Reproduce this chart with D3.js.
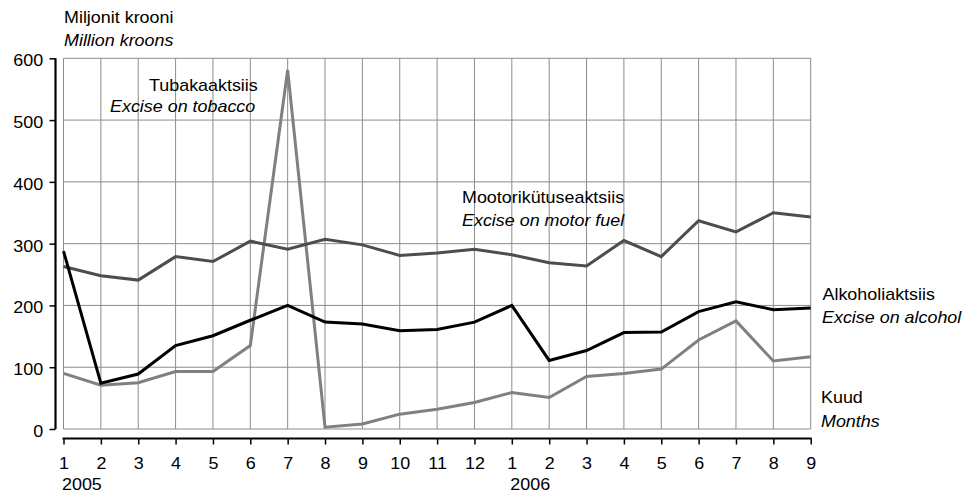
<!DOCTYPE html>
<html>
<head>
<meta charset="utf-8">
<script src="https://cdn.jsdelivr.net/npm/d3@7"></script>
<style>
  body { margin: 0; background: #fff; }
  text { font-family: "Liberation Sans", Arial, sans-serif; font-size: 16px; fill: #000; }
</style>
</head>
<body>
<div id="chart"></div>
<script>
// months Jan 2005 .. Sep 2006
const months = ["1","2","3","4","5","6","7","8","9","10","11","12","1","2","3","4","5","6","7","8","9"];
const years = [{ i: 0, label: "2005" }, { i: 12, label: "2006" }];
const yTicks = [0, 100, 200, 300, 400, 500, 600];

const motorFuel = [263, 248, 241, 279, 271, 304, 291, 307, 298, 281, 285, 291, 282, 269, 264, 305, 279, 337, 319, 350, 343];
const alcohol = [288, 74, 89, 135, 151, 176, 200, 173, 170, 159, 161, 173, 200, 111, 127, 156, 157, 190, 206, 193, 196];
const tobacco = [90, 71, 75, 93, 93, 135, 581, 3, 8, 24, 32, 43, 59, 51, 85, 90, 97, 144, 175, 110, 117];

const W = 968, H = 493;
const sx = 1.12; // reference text is a bit stretched horizontally

const svg = d3.select("#chart").append("svg")
    .attr("width", W).attr("height", H);

const x = d3.scaleLinear().domain([0, months.length - 1]).range([63.5, 810.7]);
const y = d3.scaleLinear().domain([0, 600]).range([429, 58.3]);

// grid
const grid = svg.append("g").attr("stroke", "#8c8c8c").attr("stroke-width", 1);
grid.selectAll(".v").data(months).join("line")
    .attr("x1", (d, i) => x(i)).attr("x2", (d, i) => x(i))
    .attr("y1", y(600)).attr("y2", y(0));
grid.selectAll(".h").data(yTicks).join("line")
    .attr("x1", x(0)).attr("x2", x(months.length - 1))
    .attr("y1", d => y(d)).attr("y2", d => y(d));

// y axis
const yAxis = svg.append("g")
    .attr("transform", "translate(55.5,0)")
    .call(d3.axisLeft(y).tickValues(yTicks).tickSize(6).tickPadding(0));
yAxis.select(".domain").attr("stroke", "#000").attr("stroke-width", 2.2)
    .attr("d", `M0,${y(600)}V${y(0)}`);
yAxis.selectAll(".tick line").attr("stroke", "#000").attr("stroke-width", 1.5);
yAxis.selectAll(".tick text")
    .attr("font-size", null).attr("font-family", null)
    .attr("x", -11).attr("dy", null).attr("y", 7.5)
    .attr("transform", `scale(${sx},1)`);
yAxis.attr("font-size", null).attr("font-family", null);

// x axis
const xAxis = svg.append("g")
    .attr("transform", "translate(0,438.5)")
    .call(d3.axisBottom(x).tickValues(d3.range(months.length))
        .tickFormat(i => months[i]).tickSize(6).tickPadding(0));
xAxis.attr("font-size", null).attr("font-family", null);
xAxis.select(".domain").attr("stroke", "#000").attr("stroke-width", 2.2)
    .attr("d", `M${x(0) - 1},0H${x(months.length - 1) + 1}`);
xAxis.selectAll(".tick line").attr("stroke", "#000").attr("stroke-width", 1.5);
xAxis.selectAll(".tick text")
    .attr("dy", null).attr("y", 30.5)
    .attr("transform", `scale(${sx},1)`);

function label(px, py, str, italic) {
    svg.append("text")
        .attr("transform", `translate(${px},${py}) scale(${sx},1)`)
        .attr("font-style", italic ? "italic" : null)
        .text(str);
}

years.forEach(d => label(x(d.i) - 1.5, 489.5, d.label, false));

// lines
const line = d3.line().x((d, i) => x(i)).y(d => y(d));
const series = [
    { data: tobacco, color: "#808080" },
    { data: motorFuel, color: "#4d4d4d" },
    { data: alcohol, color: "#000000" }
];
svg.selectAll(".series").data(series).join("path")
    .attr("fill", "none")
    .attr("stroke", d => d.color)
    .attr("stroke-width", 3)
    .attr("stroke-linejoin", "miter")
    .attr("d", d => line(d.data));

// annotations
label(64, 22.5, "Miljonit krooni", false);
label(64, 45.5, "Million kroons", true);
label(149, 91, "Tubakaaktsiis", false);
label(110, 112, "Excise on tobacco", true);
label(462, 202.5, "Mootorikütuseaktsiis", false);
label(462, 226, "Excise on motor fuel", true);
label(822.5, 300, "Alkoholiaktsiis", false);
label(822, 323, "Excise on alcohol", true);
label(821, 403, "Kuud", false);
label(821, 427, "Months", true);
</script>
</body>
</html>
